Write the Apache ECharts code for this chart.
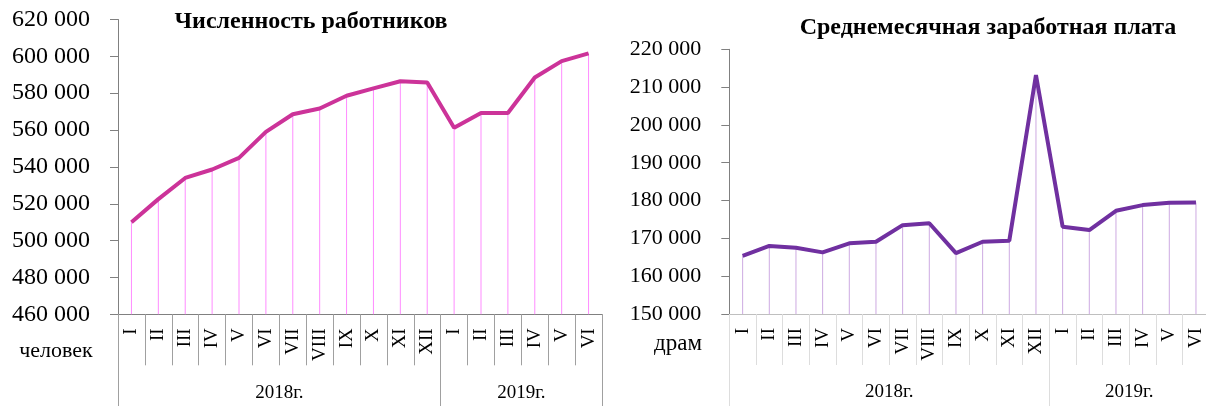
<!DOCTYPE html>
<html>
<head>
<meta charset="utf-8">
<script src="https://cdn.jsdelivr.net/npm/echarts@6/dist/echarts.min.js"></script>
<style>html,body{margin:0;padding:0;background:#fff;overflow:hidden;width:1206px;height:406px;}#c{width:1214px;height:406px;}</style>
</head>
<body>
<div id="c"></div>
<script>
const months = ['I','II','III','IV','V','VI','VII','VIII','IX','X','XI','XII','I','II','III','IV','V','VI'];
const years = ['2018г.', '2019г.'];
const yearSpan = [12, 6];
const workers = [510000, 522500, 534000, 538600, 544900, 559000, 568600, 571700, 578600, 582600, 586500, 585800, 561200, 569300, 569300, 588500, 597400, 601600];
const wages = [165400, 168000, 167500, 166300, 168700, 169100, 173500, 174000, 166100, 169100, 169400, 213200, 173100, 172200, 177300, 178800, 179400, 179500];
const leftTitle = 'Численность работников';
const rightTitle = 'Среднемесячная заработная плата';
const leftUnit = 'человек';
const rightUnit = 'драм';
const leftY = {min: 460000, max: 620000, interval: 20000};
const rightY = {min: 150000, max: 220000, interval: 10000};

const FF = '"Liberation Serif", "Times New Roman", serif';
const fmt = v => String(v).replace(/\B(?=(\d{3})+(?!\d))/g, ' ');

const bounds = [0];
const centers = [];
yearSpan.forEach(s => { const b = bounds[bounds.length - 1]; centers.push(b + s / 2); bounds.push(b + s); });
const total = bounds[bounds.length - 1];
const yearFmt = v => { const i = centers.indexOf(v); return i >= 0 ? years[i] : ''; };

function monthAxis(g, axisColor, sepColor) {
  return {
    gridIndex: g, type: 'category', data: months, boundaryGap: true,
    axisLine: {show: true, lineStyle: {color: axisColor, width: 1}},
    axisTick: {show: true, interval: 0, length: 51, lineStyle: {color: sepColor, width: 1}},
    axisLabel: {interval: 0, rotate: 90, margin: 14, fontFamily: FF, fontSize: 19, color: '#000'},
    splitLine: {show: false}
  };
}
function yearAxis(g, sepColor) {
  return {
    gridIndex: g, type: 'value', min: 0, max: total, position: 'bottom',
    axisLine: {show: false}, splitLine: {show: false},
    axisTick: {show: true, customValues: bounds, length: 92, lineStyle: {color: sepColor, width: 1}},
    axisLabel: {customValues: centers, formatter: yearFmt, margin: 69, fontFamily: FF, fontSize: 19, color: '#000'}
  };
}
function valAxis(g, r, fs, axisColor) {
  return {
    gridIndex: g, type: 'value', min: r.min, max: r.max, interval: r.interval,
    axisLine: {show: true, lineStyle: {color: axisColor, width: 1}},
    axisTick: {show: true, length: 8, lineStyle: {color: axisColor}},
    splitLine: {show: false},
    axisLabel: {formatter: fmt, margin: 28, fontFamily: FF, fontSize: fs, color: '#000'}
  };
}

const chart = echarts.init(document.getElementById('c'), null, {renderer: 'canvas'});
chart.setOption({
  animation: false,
  backgroundColor: '#fff',
  grid: [
    {left: 118, top: 19.5, width: 484, height: 294.8},
    {left: 729.3, top: 49.3, width: 480, height: 264.7}
  ],
  xAxis: [
    monthAxis(0, '#808080', '#A0A0A0'), yearAxis(0, '#A0A0A0'),
    monthAxis(1, '#BFBFBF', '#DDDDDD'), yearAxis(1, '#DDDDDD')
  ],
  yAxis: [valAxis(0, leftY, 24, '#808080'), valAxis(1, rightY, 22, '#808080')],
  series: [
    {type: 'bar', xAxisIndex: 0, yAxisIndex: 0, data: workers, barWidth: 1, itemStyle: {color: '#FF8CFF'}, z: 1},
    {type: 'line', xAxisIndex: 0, yAxisIndex: 0, data: workers, showSymbol: false, symbol: 'none', lineStyle: {color: '#CC3399', width: 4}, z: 3},
    {type: 'bar', xAxisIndex: 2, yAxisIndex: 1, data: wages, barWidth: 1, itemStyle: {color: '#CDAAE2'}, z: 1},
    {type: 'line', xAxisIndex: 2, yAxisIndex: 1, data: wages, showSymbol: false, symbol: 'none', lineStyle: {color: '#7030A0', width: 4}, z: 3}
  ],
  graphic: [
    {type: 'text', x: 311, y: 22, style: {text: leftTitle, align: 'center', verticalAlign: 'middle', font: 'bold 24px ' + FF, fill: '#000'}},
    {type: 'text', x: 988, y: 28, style: {text: rightTitle, align: 'center', verticalAlign: 'middle', font: 'bold 24px ' + FF, fill: '#000'}},
    {type: 'text', x: 56, y: 351, style: {text: leftUnit, align: 'center', verticalAlign: 'middle', font: '22px ' + FF, fill: '#000'}},
    {type: 'text', x: 678, y: 344, style: {text: rightUnit, align: 'center', verticalAlign: 'middle', font: '23px ' + FF, fill: '#000'}}
  ]
});
</script>
</body>
</html>
